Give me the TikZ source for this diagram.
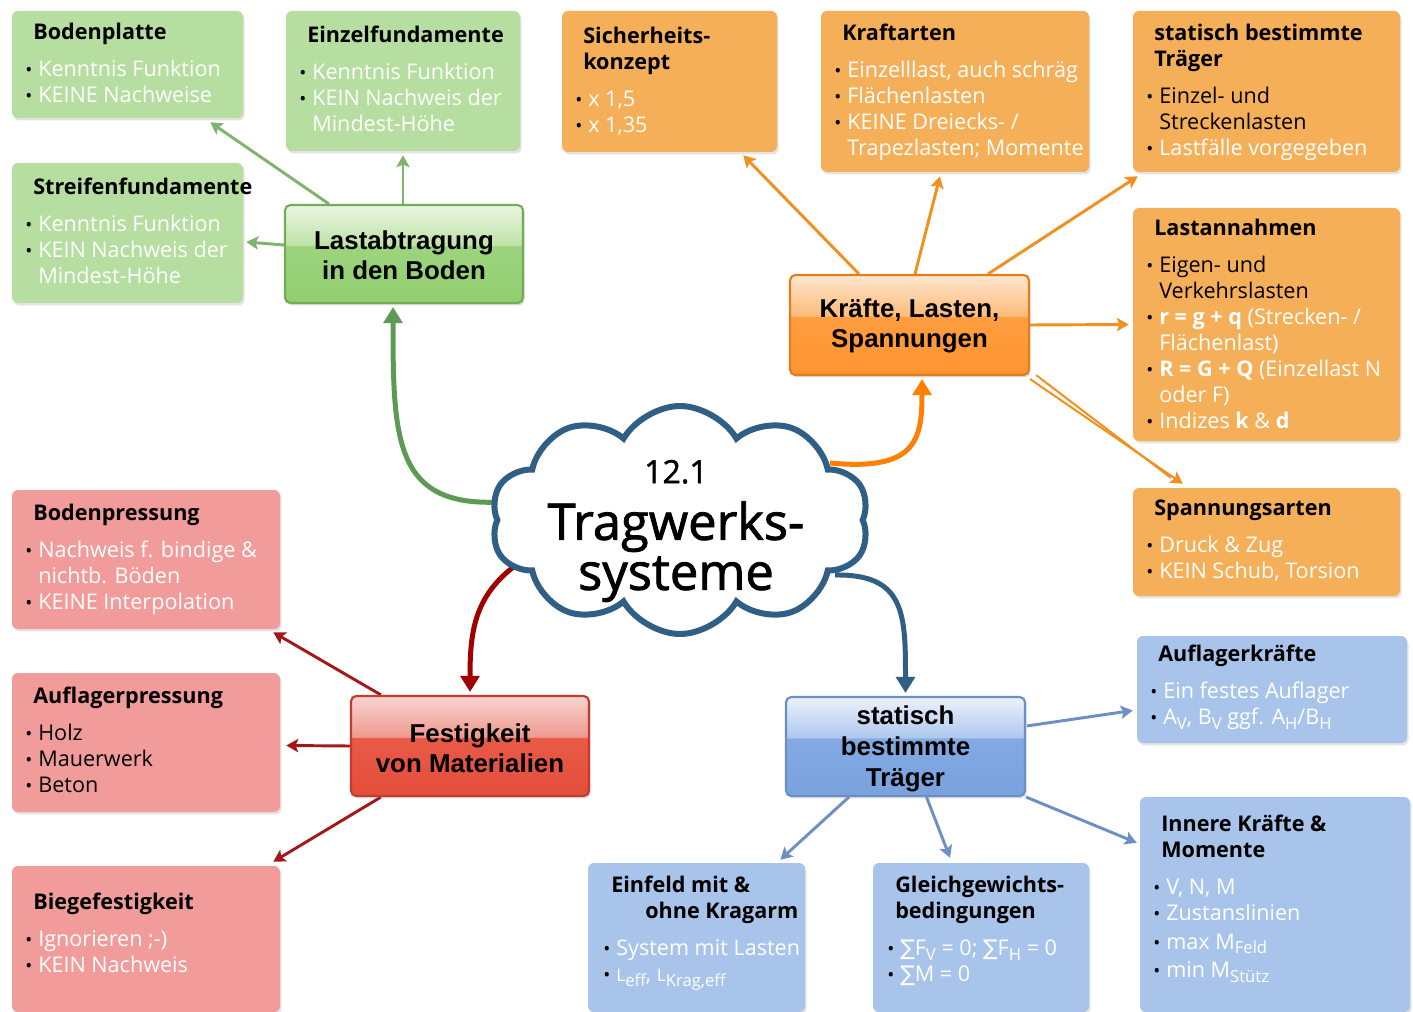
\documentclass[tikz,border=0pt]{standalone}
\usepackage{fontspec}
\setmainfont{Open Sans}
\newfontfamily\libsans{Liberation Sans}
\newfontfamily\djv{DejaVu Sans}
\newfontfamily\cloudfam{Open Sans}[FakeBold=1.6]
\usetikzlibrary{shapes.symbols,arrows.meta,calc,fit,shadows}
\pgfdeclarelayer{bg}
\pgfsetlayers{bg,main}

\definecolor{lgreen}{HTML}{B6DEA0}
\definecolor{lorange}{HTML}{F5AF58}
\definecolor{lred}{HTML}{F19C9A}
\definecolor{lblue}{HTML}{A8C4EA}
\definecolor{cloudblue}{HTML}{2F5F84}
\definecolor{cgreenD}{HTML}{5E9A55}
\definecolor{corangeD}{HTML}{FF8000}
\definecolor{credD}{HTML}{A00000}
\definecolor{cgreenT}{HTML}{7DB56C}
\definecolor{corangeT}{HTML}{F2901F}
\definecolor{credT}{HTML}{A31818}
\definecolor{cblueT}{HTML}{6D8FC4}
% gloss colours
\definecolor{gA}{HTML}{92CE70}\definecolor{gB}{HTML}{9DD47E}\definecolor{gC}{HTML}{BFE3A9}\definecolor{gD}{HTML}{EAF6E2}\definecolor{gE}{HTML}{72AC56}
\definecolor{oA}{HTML}{FF9530}\definecolor{oB}{HTML}{FF9D40}\definecolor{oC}{HTML}{FCBB7A}\definecolor{oD}{HTML}{FEE6CE}\definecolor{oE}{HTML}{E07D1C}
\definecolor{rA}{HTML}{E44E3B}\definecolor{rB}{HTML}{E85A47}\definecolor{rC}{HTML}{EE9A90}\definecolor{rD}{HTML}{F8D4D0}\definecolor{rE}{HTML}{C23B2C}
\definecolor{bA}{HTML}{79A2DE}\definecolor{bB}{HTML}{83A9E2}\definecolor{bC}{HTML}{AFC8EE}\definecolor{bD}{HTML}{ECF2FB}\definecolor{bE}{HTML}{6A8EC6}
\pgfdeclareverticalshading{glossgreen}{100bp}{color(0bp)=(gA); color(25bp)=(gA); color(54bp)=(gB); color(54.6bp)=(gC); color(75bp)=(gD); color(100bp)=(gD)}
\pgfdeclareverticalshading{glossorange}{100bp}{color(0bp)=(oA); color(25bp)=(oA); color(54bp)=(oB); color(54.6bp)=(oC); color(75bp)=(oD); color(100bp)=(oD)}
\pgfdeclareverticalshading{glossred}{100bp}{color(0bp)=(rA); color(25bp)=(rA); color(54bp)=(rB); color(54.6bp)=(rC); color(75bp)=(rD); color(100bp)=(rD)}
\pgfdeclareverticalshading{glossblue}{100bp}{color(0bp)=(bA); color(25bp)=(bA); color(54bp)=(bB); color(54.6bp)=(bC); color(75bp)=(bD); color(100bp)=(bD)}

\newcommand\leaffnt{\fontsize{16.2}{19.5}\selectfont}
\newcommand\mainfnt{\libsans\bfseries\fontsize{19.4}{22.5}\selectfont}
\newcommand\cloudfnt{\cloudfam\fontsize{38}{37.5}\selectfont}
\newcommand\ti[1]{\hspace*{6pt}\textcolor{black}{\bfseries #1}}
\newcommand\bu{\makebox[9.75pt][l]{\textcolor{black}{\fontsize{14}{14}\selectfont\raisebox{0pt}{•}}}}
\newcommand\ind{\hspace*{9.75pt}}
\newcommand\bk[1]{\textcolor{black}{#1}}
\newcommand\sbs[1]{\raisebox{-0.22em}{\fontsize{12.5}{12.5}\selectfont #1}}

\tikzset{
  leaf/.style={fill=#1, rounded corners=4.5pt, inner sep=0pt,
    drop shadow={opacity=0.22, shadow xshift=1.2pt, shadow yshift=-1.8pt}},
  txt/.style={anchor=north west, align=left, inner sep=0pt, text=white, font=\leaffnt},
  mainbox/.style={rounded corners=4pt, inner sep=0pt, line width=1.6pt,
    drop shadow={opacity=0.25, shadow xshift=1.2pt, shadow yshift=-1.8pt}},
  maintxt/.style={inner sep=0pt, align=center, font=\mainfnt},
  thickcon/.style={line width=3.75pt, -{Triangle[length=12pt,width=14pt]}},
  thincon/.style={line width=2.2pt, -{Stealth[length=9pt,width=10pt,inset=2pt]}},
}

\begin{document}
\begin{tikzpicture}[x=0.75pt,y=-0.75pt]
\begin{pgfonlayer}{bg}
\path[use as bounding box, fill=white] (0,0) rectangle (1413,999);
\end{pgfonlayer}

% ---------- green leaves ----------
\node[leaf=lgreen, fit={(12,11) (243,118)}] (bp) {};
\node[txt] (bpt) at (25,23) {\ti{Bodenplatte}\\[8pt]\bu Kenntnis Funktion\\\bu KEINE Nachweise};
\node[leaf=lgreen, fit={(286,11) (520,151)}] (ez) {};
\node[txt] (ezt) at (299,26) {\ti{Einzelfundamente}\\[8pt]\bu Kenntnis Funktion\\\bu KEIN Nachweis der\\\ind Mindest-Höhe};
\node[leaf=lgreen, fit={(12,163) (243,303)}] (sf) {};
\node[txt] (sft) at (25,178) {\ti{Streifenfundamente}\\[8pt]\bu Kenntnis Funktion\\\bu KEIN Nachweis der\\\ind Mindest-Höhe};

% ---------- orange leaves ----------
\node[leaf=lorange, fit={(562,11) (777,152)}] (sk) {};
\node[txt] (skt) at (575,27) {\ti{Sicherheits-}\\\ti{konzept}\\[8pt]\bu x 1,5\\\bu x 1,35};
\node[leaf=lorange, fit={(821,11) (1089,172)}] (ka) {};
\node[txt] (kat) at (834,24) {\ti{Kraftarten}\\[8pt]\bu Einzelllast, auch schräg\\\bu Flächenlasten\\\bu KEINE Dreiecks- /\\\ind Trapezlasten; Momente};
\node[leaf=lorange, fit={(1133,11) (1400,172)}] (st) {};
\node[txt] (stt) at (1146,24) {\ti{statisch bestimmte}\\\ti{Träger}\\[8pt]\bu\bk{Einzel- und}\\\ind\bk{Streckenlasten}\\\bu Lastfälle vorgegeben};
\node[leaf=lorange, fit={(1133,208) (1400,441)}] (la) {};
\node[txt] (lat) at (1146,219) {\ti{Lastannahmen}\\[8pt]\bu\bk{Eigen- und}\\\ind\bk{Verkehrslasten}\\\bu\textbf{r = g + q} (Strecken- /\\\ind Flächenlast)\\\bu\textbf{R = G + Q} (Einzellast N\\\ind oder F)\\\bu Indizes \textbf{k} \& \textbf{d}};
\node[leaf=lorange, fit={(1133,488) (1400,596)}] (sa) {};
\node[txt] (sat) at (1146,500) {\ti{Spannungsarten}\\[8pt]\bu Druck \& Zug\\\bu KEIN Schub, Torsion};

% ---------- red leaves ----------
\node[leaf=lred, fit={(12,490) (280,629)}] (bpr) {};
\node[txt] (bprt) at (25,504) {\ti{Bodenpressung}\\[8pt]\bu Nachweis f. bindige \&\\\ind nichtb. Böden\\\bu KEINE Interpolation};
\node[leaf=lred, fit={(12,673) (280,812)}] (ap) {};
\node[txt] (apt) at (25,687) {\ti{Auflagerpressung}\\[8pt]\bu\bk{Holz}\\\bu\bk{Mauerwerk}\\\bu\bk{Beton}};
\node[leaf=lred, fit={(12,866) (280,1012)}] (bf) {};
\node[txt] (bft) at (25,893) {\ti{Biegefestigkeit}\\[8pt]\bu Ignorieren ;-)\\\bu KEIN Nachweis};

% ---------- blue leaves ----------
\node[leaf=lblue, fit={(1137,636) (1407,743)}] (ak) {};
\node[txt] (akt) at (1150,645) {\ti{Auflagerkräfte}\\[8pt]\bu Ein festes Auflager\\\bu A\sbs{V}, B\sbs{V} ggf. A\sbs{H}/B\sbs{H}};
\node[leaf=lblue, fit={(1140,797) (1410,1012)}] (ik) {};
\node[txt] (ikt) at (1153,815) {\ti{Innere Kräfte \&}\\\ti{Momente}\\[8pt]\bu V, N, M\\\bu Zustanslinien\\[2pt]\bu max M\sbs{Feld}\\[2pt]\bu min M\sbs{Stütz}};
\node[leaf=lblue, fit={(588,863) (805,1012)}] (ef) {};
\node[txt] (eft) at (603,876) {\ti{Einfeld mit \&}\\\hspace*{31.5pt}\textcolor{black}{\bfseries ohne Kragarm}\\[8pt]\bu System mit Lasten\\\bu{\fontsize{13}{13}\selectfont L}\sbs{eff}, {\fontsize{13}{13}\selectfont L}\sbs{Krag,eff}};
\node[leaf=lblue, fit={(873,863) (1089,1012)}] (gg) {};
\node[txt] (ggt) at (887,876) {\ti{Gleichgewichts-}\\\ti{bedingungen}\\[8pt]\bu{\djv ∑}F\sbs{V} = 0; {\djv ∑}F\sbs{H} = 0\\\bu{\djv ∑}M = 0};

% ---------- main nodes ----------
\node[mainbox, shading=glossgreen, draw=gE, fit={(285,205) (523,303)}] (lab) {};
\node[maintxt] (labt) at ($(lab.center)+(0,1)$) {Lastabtragung\\in den Boden};
\node[mainbox, shading=glossorange, draw=oE, fit={(790,275) (1029,375)}] (kls) {};
\node[maintxt] (klst) at ($(kls.center)+(0,1)$) {Kräfte, Lasten,\\Spannungen};
\node[mainbox, shading=glossred, draw=rE, fit={(351,696) (589,796)}] (fvm) {};
\node[maintxt] (fvmt) at ($(fvm.center)+(0,2)$) {Festigkeit\\von Materialien};
\node[mainbox, shading=glossblue, draw=bE, fit={(786,697) (1025,796)}] (sbt) {};
\node[maintxt, font=\libsans\bfseries\fontsize{19.4}{23.25}\selectfont] (sbtt) at ($(sbt.center)+(0,2)$) {statisch\\bestimmte\\Träger};

% ---------- cloud ----------
\node[cloud, cloud puffs=10, cloud puff arc=120, cloud ignores aspect,
      minimum width=283.5pt, minimum height=171pt, inner sep=0pt,
      draw=cloudblue, line width=4.5pt, fill=white] (cl) at (680,520) {};
\node[font=\cloudfnt, align=center, inner sep=0pt] (clt) at (676,531)
  {{\fontsize{24}{24}\selectfont 12.1}\\[5pt]Tragwerks-\\systeme};

% ---------- connectors ----------
\begin{pgfonlayer}{bg}
\draw[thickcon, cgreenD] ($(cl.center)+(-180,-18)$) .. controls ($(lab.south)+(-9,203)$) and ($(lab.south)+(-11,137)$) .. ($(lab.south)+(-11,3)$);
\draw[thickcon, corangeD] ($(cl.center)+(150,-57)$) .. controls ($(kls.south)+(5.5,95)$) and ($(kls.south)+(12.5,65)$) .. ($(kls.south)+(12.5,3)$);
\draw[thickcon, credD] ($(cl.center)+(-160,42)$) .. controls ($(fvm.north)+(5,-101)$) and ($(fvm.north)+(0,-66)$) .. ($(fvm.north)+(0,-3)$);
\draw[thickcon, cloudblue] ($(cl.center)+(155,55)$) .. controls ($(sbt.north)+(-0.5,-122)$) and ($(sbt.north)+(0,-82)$) .. ($(sbt.north)+(0,-3)$);

\draw[thincon, cgreenT] ($(lab.north west)+(45,0)$) -- ($(bp.south east)+(-33,4)$);
\draw[thincon, cgreenT] ($(lab.north)+(-1,0)$) -- ($(ez.south)+(0,4)$);
\draw[thincon, cgreenT] ($(lab.west)+(0,-9)$) -- ($(sf.east)+(3,9)$);

\draw[thincon, corangeT] ($(kls.north west)+(70,0)$) -- ($(sk.south east)+(-34,3)$);
\draw[thincon, corangeT] ($(kls.north)+(5.5,0)$) -- ($(ka.south)+(-15,4)$);
\draw[thincon, corangeT] ($(kls.north east)+(-42,0)$) -- ($(st.south west)+(5,4)$);
\draw[thincon, corangeT] (kls.east) -- ($(la.west)+(-4,0)$);
\draw[thincon, corangeT, line width=1.5pt] ($(kls.south east)+(0,3)$) -- ($(sa.north west)+(50,-4)$);
\draw[corangeT, line width=1.5pt] ($(kls.south east)+(6,-1)$) -- ($(sa.north west)+(38,-10)$);

\draw[thincon, credT] ($(fvm.north west)+(31,0)$) -- ($(bpr.south east)+(-7,3)$);
\draw[thincon, credT] (fvm.west) -- ($(ap.east)+(6,3)$);
\draw[thincon, credT] ($(fvm.south west)+(31,0)$) -- ($(bf.north east)+(-7,-4)$);

\draw[thincon, cblueT] ($(sbt.north east)+(1,30)$) -- ($(ak.west)+(-4,21)$);
\draw[thincon, cblueT] ($(sbt.south west)+(64,0)$) -- ($(ef.north east)+(-25,-3)$);
\draw[thincon, cblueT] ($(sbt.south)+(21,0)$) -- ($(gg.north)+(-31,-5)$);
\draw[thincon, cblueT] (sbt.south east) -- ($(ik.north west)+(-3,46)$);
\end{pgfonlayer}
\end{tikzpicture}
\end{document}
